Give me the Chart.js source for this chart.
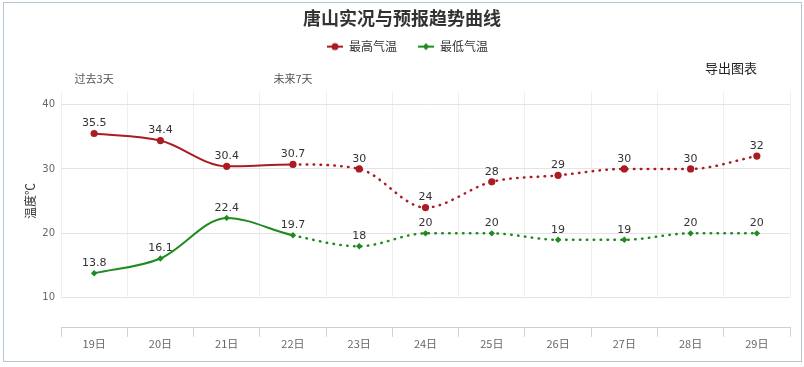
<!DOCTYPE html>
<html>
<head>
<meta charset="utf-8">
<script src="https://cdn.jsdelivr.net/npm/chart.js@4.4.1/dist/chart.umd.min.js"></script>
<style>
  body { margin:0; background:#fff; }
  canvas { display:block; }
</style>
</head>
<body>
<canvas id="grafico" width="804" height="367"></canvas>
<script>
// ------------------- DADOS -------------------
const dias = ['19日','20日','21日','22日','23日','24日','25日','26日','27日','28日','29日'];
const periodos = ['过去3天','','','未来7天','','','','','','',''];
const maxTemp = [35.5, 34.4, 30.4, 30.7, 30, 24, 28, 29, 30, 30, 32];
const minTemp = [13.8, 16.1, 22.4, 19.7, 18, 20, 20, 19, 19, 20, 20];
const yTicks = [10, 20, 30, 40];
const ultimoReal = 3; // 22日 = last observed day, forecast is dotted after it

const VERMELHO = '#a81c22';
const VERDE = '#1f8a1f';
const CJK = "'Noto Sans CJK SC', 'Liberation Sans', sans-serif";

Chart.defaults.font.family = CJK;

// legend marker: short line with the point symbol on it
function marcador(cor, estilo){
  const c = document.createElement('canvas');
  c.width = 27; c.height = 10;
  const g = c.getContext('2d');
  g.strokeStyle = cor; g.lineWidth = 2;
  g.beginPath(); g.moveTo(11,5); g.lineTo(27,5); g.stroke();
  g.fillStyle = cor;
  g.beginPath();
  if(estilo === 'circle') g.arc(19,5,3.5,0,Math.PI*2);
  else { g.moveTo(19,1.5); g.lineTo(22.5,5); g.lineTo(19,8.5); g.lineTo(15.5,5); g.closePath(); }
  g.fill();
  return c;
}
const marcadores = [marcador(VERMELHO,'circle'), marcador(VERDE,'diamond')];

const pontilhado = ctx => ctx.p0DataIndex >= ultimoReal ? [0.5, 6.4] : undefined;
const espessura = ctx => ctx.p0DataIndex >= ultimoReal ? 2.5 : 2;

const extras = {
  id:'extras',
  beforeDraw(chart){
    const c = chart.ctx;
    c.save();
    c.strokeStyle = '#b4c7d2';
    c.lineWidth = 1;
    c.strokeRect(3.5, 2.5, 798, 359);
    c.restore();
  },
  afterDatasetsDraw(chart){
    const c = chart.ctx;
    c.save();
    c.font = "11px 'DejaVu Sans'";
    c.fillStyle = '#333';
    c.textAlign = 'center';
    c.textBaseline = 'middle';
    chart.data.datasets.forEach((ds, i)=>{
      chart.getDatasetMeta(i).data.forEach((pt, j)=>{
        c.fillText(String(ds.data[j]), pt.x, pt.y - 10);
      });
    });
    c.restore();
  },
  afterDraw(chart){
    const c = chart.ctx;
    c.save();
    c.fillStyle = '#333';
    c.font = "12px " + CJK;
    c.translate(30, 201);
    c.rotate(-Math.PI/2);
    c.textAlign = 'center';
    c.textBaseline = 'middle';
    c.fillText('温度℃', 0, 0);
    c.restore();

    c.save();
    c.fillStyle = '#222';
    c.font = "13px " + CJK;
    c.textAlign = 'left';
    c.textBaseline = 'middle';
    c.fillText('导出图表', 705, 68);
    c.restore();
  }
};

new Chart(document.getElementById('grafico'), {
  type:'line',
  data:{
    labels: dias,
    datasets:[
      {
        label:'最高气温',
        data:maxTemp,
        borderColor:VERMELHO,
        backgroundColor:VERMELHO,
        borderWidth:2,
        borderCapStyle:'round',
        pointStyle:'circle',
        pointRadius:3.6,
        pointBorderWidth:0,
        cubicInterpolationMode:'monotone',
        segment:{ borderDash:pontilhado, borderWidth:espessura }
      },
      {
        label:'最低气温',
        data:minTemp,
        borderColor:VERDE,
        backgroundColor:VERDE,
        borderWidth:2,
        borderCapStyle:'round',
        pointStyle:'rectRot',
        pointRadius:3.2,
        pointBorderWidth:0,
        cubicInterpolationMode:'monotone',
        segment:{ borderDash:pontilhado, borderWidth:espessura }
      }
    ]
  },
  options:{
    responsive:false,
    animation:false,
    layout:{ padding:{ left:0, right:0, top:0, bottom:17 } },
    plugins:{
      title:{
        display:true,
        text:'唐山实况与预报趋势曲线',
        color:'#333',
        font:{ size:18, weight:'bold', family:CJK },
        padding:{ top:7, bottom:2 }
      },
      legend:{
        display:true,
        labels:{
          usePointStyle:true,
          pointStyleWidth:27,
          padding:10,
          color:'#333',
          font:{ size:12, family:CJK },
          generateLabels: chart => Chart.defaults.plugins.legend.labels.generateLabels(chart)
            .map((l, i)=>({ ...l, pointStyle:marcadores[i] }))
        }
      },
      tooltip:{ enabled:false }
    },
    scales:{
      xTop:{
        type:'category',
        position:'top',
        labels:periodos,
        offset:true,
        grid:{ display:false, drawTicks:false },
        border:{ display:false },
        ticks:{ autoSkip:false, maxRotation:0, padding:6, color:'#555', font:{ size:11, family:CJK } },
        afterFit: s => { s.height = 29; }
      },
      x:{
        offset:true,
        grid:{ offset:true, color:'#efefef', drawTicks:false },
        border:{ display:false },
        ticks:{ display:false },
        afterFit: s => { s.height = 30; }
      },
      x2:{
        type:'category',
        position:'bottom',
        labels:dias,
        offset:true,
        grid:{ offset:true, drawOnChartArea:false, tickLength:9, color:'#ccd0d4' },
        border:{ color:'#ccd0d4' },
        ticks:{ autoSkip:false, maxRotation:0, padding:0, color:'#666', font:{ size:11, family:CJK } }
      },
      y:{
        min:10,
        max:42,
        afterBuildTicks: s => { s.ticks = yTicks.map(v=>({ value:v })); },
        afterFit: s => { s.width = 61; },
        grid:{ color:'#e4e4e4', drawTicks:false },
        border:{ display:false },
        ticks:{ padding:6, color:'#666', font:{ size:10, family:'DejaVu Sans' } }
      },
      yRight:{
        type:'linear',
        position:'right',
        grid:{ display:false, drawTicks:false },
        border:{ display:false },
        ticks:{ display:false },
        afterFit: s => { s.width = 14; }
      }
    }
  },
  plugins:[extras]
});
</script>
</body>
</html>
